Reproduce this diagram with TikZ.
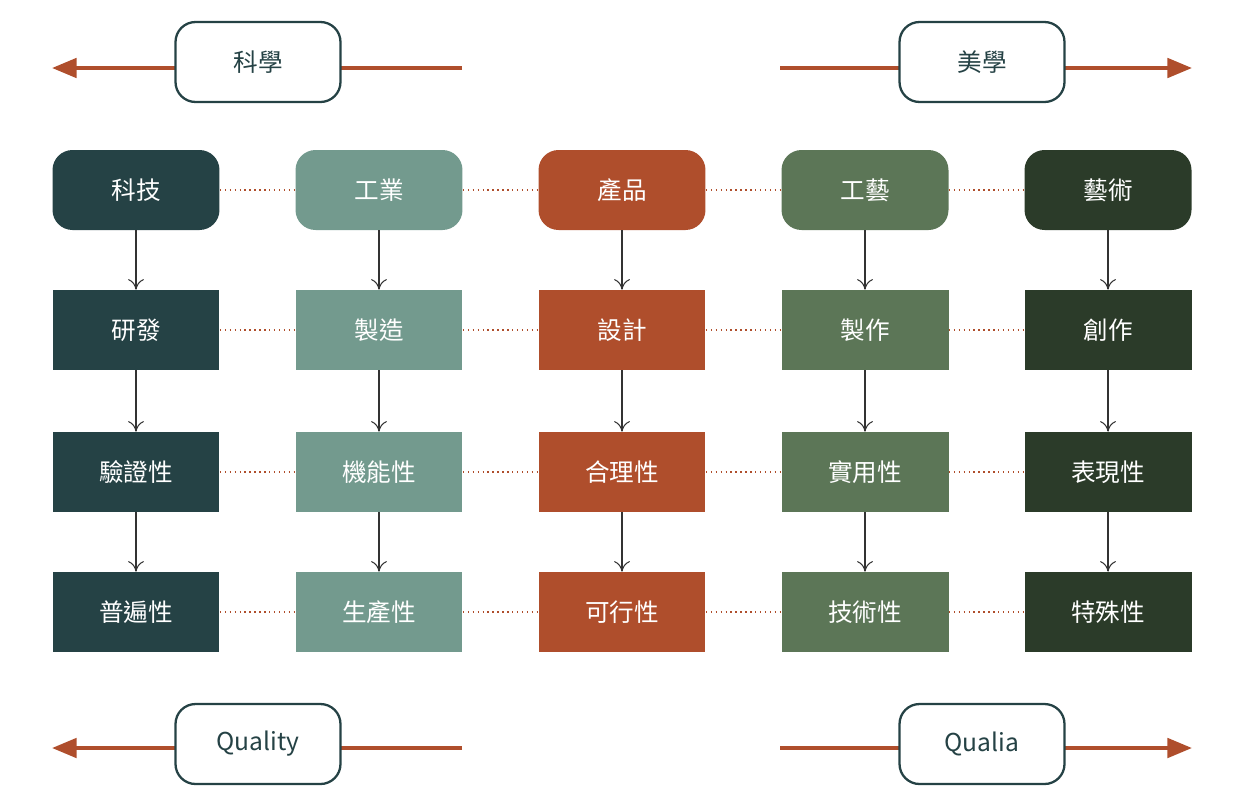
\documentclass[tikz,border=0pt]{standalone}
\usepackage{fontspec}
\setmainfont{Noto Sans CJK TC}
\usetikzlibrary{arrows.meta}
\definecolor{tealdark}{HTML}{254245}
\definecolor{teallight}{HTML}{739A8E}
\definecolor{rust}{HTML}{AF4E2C}
\definecolor{sage}{HTML}{5C7657}
\definecolor{forest}{HTML}{2B3B29}
\tikzset{
  cell/.style={minimum width=3.34cm, minimum height=1.6cm, text=white, font=\fontsize{14}{16}\selectfont, inner sep=0pt},
  head/.style={cell, rounded corners=0.4cm},
  pole/.style={draw=tealdark, line width=1.3pt, fill=white, rounded corners=0.4cm, minimum width=3.3cm, minimum height=1.6cm, text=tealdark, font=\fontsize{14}{16}\selectfont},
  link/.style={rust, dotted, line width=0.8pt},
  down/.style={-{To[length=6pt,width=9pt]}, black!80, line width=0.6pt},
  axis/.style={rust, line width=2.2pt, -{Triangle[length=14pt,width=11pt]}}
}
\begin{document}
\begin{tikzpicture}[x=0.02cm, y=-0.02cm]
\useasboundingbox (0,0) rectangle (1246,802);
% columns
\foreach \c/\col/\a/\b/\d/\e in {1/tealdark/科技/研發/驗證性/普遍性, 2/teallight/工業/製造/機能性/生產性, 3/rust/產品/設計/合理性/可行性, 4/sage/工藝/製作/實用性/技術性, 5/forest/藝術/創作/表現性/特殊性}{
  \pgfmathsetmacro{\xc}{136+243*(\c-1)}
  \node[head, fill=\col] (h\c) at (\xc,190) {\a};
  \node[cell, fill=\col] (r\c) at (\xc,330) {\b};
  \node[cell, fill=\col] (p\c) at (\xc,472) {\d};
  \node[cell, fill=\col] (q\c) at (\xc,612) {\e};
  \draw[down] (h\c) -- (r\c);
  \draw[down] (r\c) -- (p\c);
  \draw[down] (p\c) -- (q\c);
}
% dotted links
\foreach \i [evaluate=\i as \j using int(\i+1)] in {1,...,4}{
  \draw[link] (h\i) -- (h\j);
  \draw[link] (r\i) -- (r\j);
  \draw[link] (p\i) -- (p\j);
  \draw[link] (q\i) -- (q\j);
}
% poles
\coordinate (sciR) at (462,68);
\coordinate (sciL) at (52,68);
\coordinate (aesL) at (780,68);
\coordinate (aesR) at (1192,68);
\coordinate (qtyR) at (462,748);
\coordinate (qtyL) at (52,748);
\coordinate (qlaL) at (780,748);
\coordinate (qlaR) at (1192,748);
\draw[axis] (sciR) -- (sciL);
\draw[axis] (aesL) -- (aesR);
\draw[axis] (qtyR) -- (qtyL);
\draw[axis] (qlaL) -- (qlaR);
\node[pole] (sci) at (258,62) {科學};
\node[pole] (aes) at (982,62) {美學};
\node[pole] (qty) at (258,744) {Quality};
\node[pole] (qla) at (982,744) {Qualia};
\end{tikzpicture}
\end{document}
